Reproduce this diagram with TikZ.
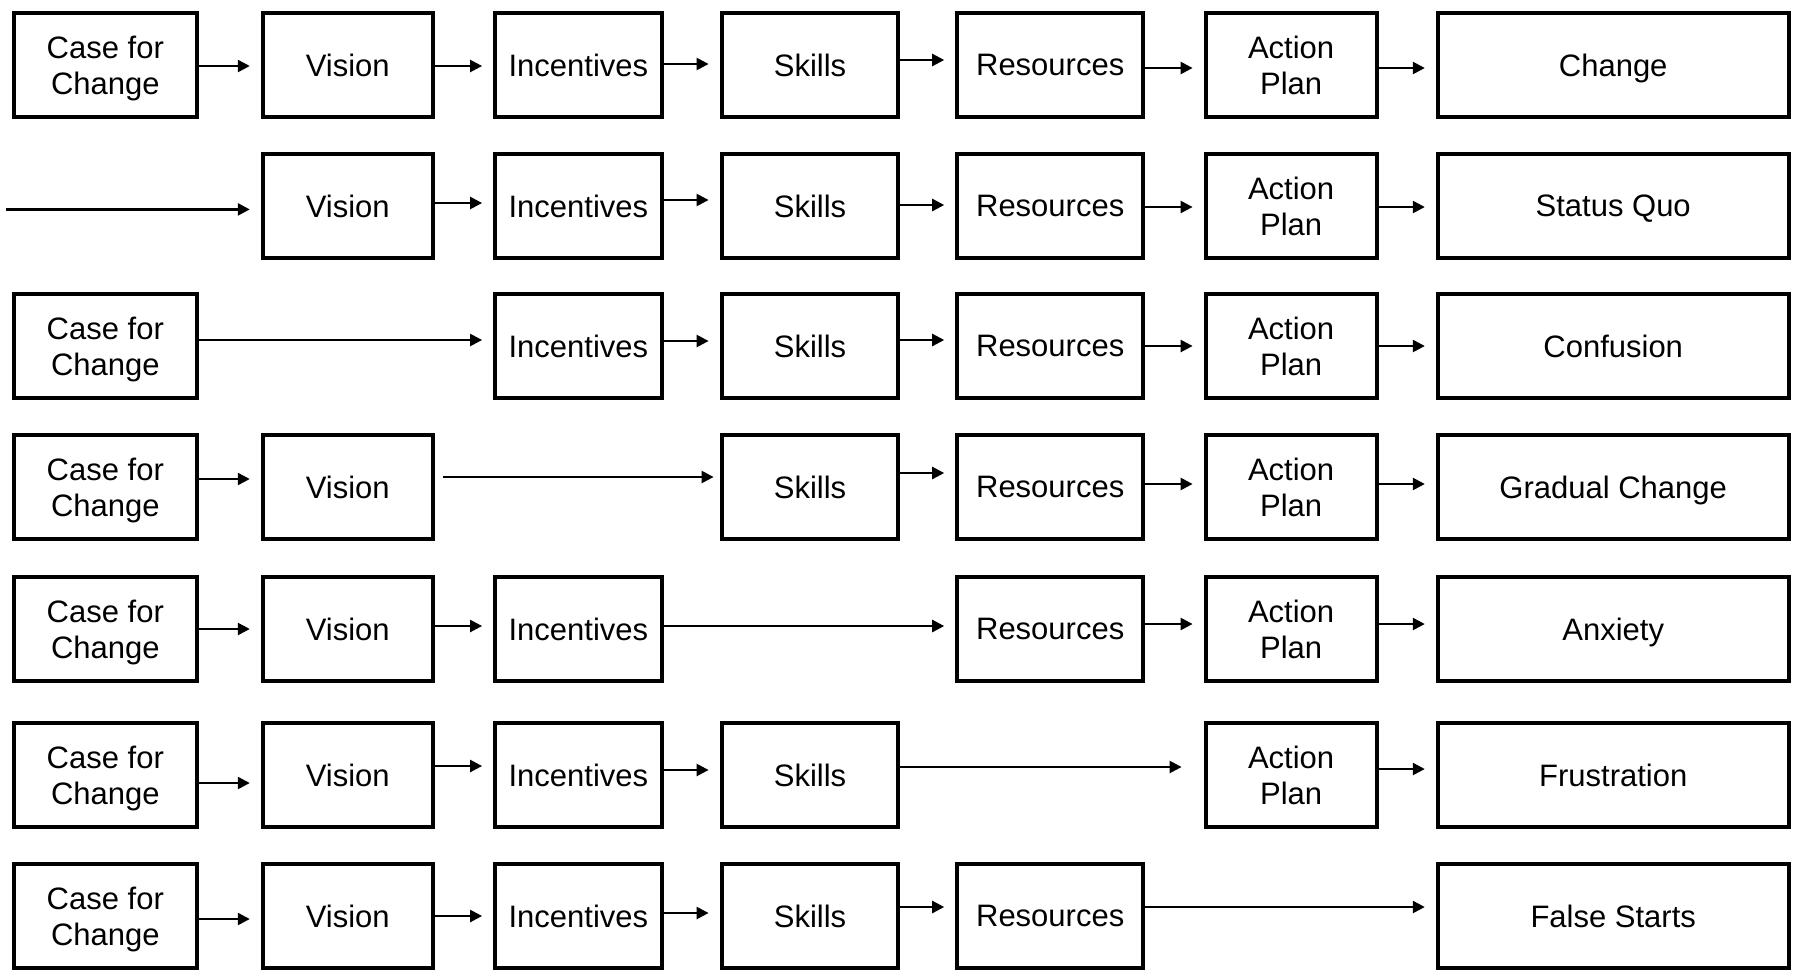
\documentclass[tikz,border=0pt]{standalone}
\usepackage{fontspec}
\setmainfont{Liberation Sans}
\usetikzlibrary{arrows.meta}

\tikzset{
  stage/.style={draw, line width=2pt, minimum height=51.75pt, inner sep=0pt,
    text depth=0pt, align=center, font=\fontsize{15.5}{17.8}\selectfont},
  casebox/.style={stage, minimum width=91.8pt},
  visbox/.style={stage, minimum width=85pt},
  incbox/.style={stage, minimum width=83.3pt},
  skillbox/.style={stage, minimum width=88.4pt},
  resbox/.style={stage, minimum width=93pt},
  planbox/.style={stage, minimum width=85.5pt},
  endbox/.style={stage, minimum width=175.4pt},
  flow/.style={-{Triangle[length=6pt,width=6pt]}, line width=1.2pt, shorten >=5.5pt},
}

\begin{document}
\begin{tikzpicture}[x=0.5pt, y=-0.5pt]
		\useasboundingbox (0,0) rectangle (1794,976);

		% Row 1: all elements present
		\node[casebox] (cf1) at (105.3,65) {Case for\\Change};
		\node[visbox] (vi1) at (347.8,65) {Vision};
		\node[incbox] (in1) at (578.4,65) {Incentives};
		\node[skillbox] (sk1) at (810,65) {Skills};
		\node[resbox] (rs1) at (1050.2,65) {Resources};
		\node[planbox] (ap1) at (1291.1,65) {Action\\Plan};
		\node[endbox] (chg) at (1613.2,65) {Change};

		% Row 2: no case for change
		\coordinate (st2) at (6,209.4);
		\node[visbox] (vi2) at (347.8,206) {Vision};
		\node[incbox] (in2) at (578.4,206) {Incentives};
		\node[skillbox] (sk2) at (810,206) {Skills};
		\node[resbox] (rs2) at (1050.2,206) {Resources};
		\node[planbox] (ap2) at (1291.1,206) {Action\\Plan};
		\node[endbox] (sq) at (1613.2,206) {Status Quo};

		% Row 3: no vision
		\node[casebox] (cf3) at (105.3,346) {Case for\\Change};
		\node[incbox] (in3) at (578.4,346) {Incentives};
		\node[skillbox] (sk3) at (810,346) {Skills};
		\node[resbox] (rs3) at (1050.2,346) {Resources};
		\node[planbox] (ap3) at (1291.1,346) {Action\\Plan};
		\node[endbox] (conf) at (1613.2,346) {Confusion};

		% Row 4: no incentives
		\node[casebox] (cf4) at (105.3,487) {Case for\\Change};
		\node[visbox] (vi4) at (347.8,487) {Vision};
		\node[skillbox] (sk4) at (810,487) {Skills};
		\node[resbox] (rs4) at (1050.2,487) {Resources};
		\node[planbox] (ap4) at (1291.1,487) {Action\\Plan};
		\node[endbox] (grad) at (1613.2,487) {Gradual Change};

		% Row 5: no skills
		\node[casebox] (cf5) at (105.3,629) {Case for\\Change};
		\node[visbox] (vi5) at (347.8,629) {Vision};
		\node[incbox] (in5) at (578.4,629) {Incentives};
		\node[resbox] (rs5) at (1050.2,629) {Resources};
		\node[planbox] (ap5) at (1291.1,629) {Action\\Plan};
		\node[endbox] (anx) at (1613.2,629) {Anxiety};

		% Row 6: no resources
		\node[casebox] (cf6) at (105.3,775) {Case for\\Change};
		\node[visbox] (vi6) at (347.8,775) {Vision};
		\node[incbox] (in6) at (578.4,775) {Incentives};
		\node[skillbox] (sk6) at (810,775) {Skills};
		\node[planbox] (ap6) at (1291.1,775) {Action\\Plan};
		\node[endbox] (frus) at (1613.2,775) {Frustration};

		% Row 7: no action plan
		\node[casebox] (cf7) at (105.3,916) {Case for\\Change};
		\node[visbox] (vi7) at (347.8,916) {Vision};
		\node[incbox] (in7) at (578.4,916) {Incentives};
		\node[skillbox] (sk7) at (810,916) {Skills};
		\node[resbox] (rs7) at (1050.2,916) {Resources};
		\node[endbox] (fs) at (1613.2,916) {False Starts};

		% Arrows (hand-drawn offsets kept)
		\foreach \a/\b/\s in {cf1/vi1/-0.5pt, vi1/in1/-0.5pt, in1/sk1/0.5pt, sk1/rs1/2.5pt, rs1/ap1/-1.5pt, ap1/chg/-1.5pt,
				vi2/in2/1.5pt, in2/sk2/3pt, sk2/rs2/0.5pt, rs2/ap2/-0.5pt, ap2/sq/-0.5pt,
				cf3/in3/3pt, in3/sk3/2.5pt, sk3/rs3/3pt, rs3/ap3/0pt, ap3/conf/0pt,
				cf4/vi4/4pt, sk4/rs4/7pt, rs4/ap4/1.5pt, ap4/grad/1.5pt,
				cf5/vi5/0pt, vi5/in5/1.5pt, in5/rs5/1.5pt, rs5/ap5/2.5pt, ap5/anx/2.5pt,
				cf6/vi6/-4pt, vi6/in6/4.5pt, in6/sk6/2.5pt, ap6/frus/3pt,
				cf7/vi7/-1.5pt, vi7/in7/0pt, in7/sk7/1.5pt, sk7/rs7/4.5pt, rs7/fs/4.5pt}
			\draw[flow] ([yshift=\s]\a.east) -- ([yshift=\s]\b.west);
		\draw[flow] (st2) -- (st2 -| vi2.west);
		\draw[flow, shorten <=4pt, shorten >=3pt] ([yshift=5pt]vi4.east) -- ([yshift=5pt]sk4.west);
		\draw[flow, shorten >=11pt] ([yshift=4pt]sk6.east) -- ([yshift=4pt]ap6.west);
\end{tikzpicture}
\end{document}
